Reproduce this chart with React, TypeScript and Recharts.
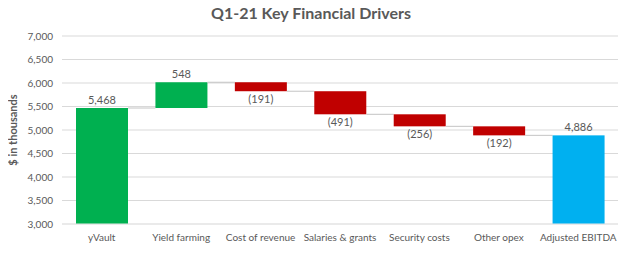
import React from "react";
import { BarChart, Bar, XAxis, YAxis, CartesianGrid, LabelList, Label, ReferenceLine } from "recharts";

const categories = [
  "yVault",
  "Yield farming",
  "Cost of revenue",
  "Salaries & grants",
  "Security costs",
  "Other opex",
  "Adjusted EBITDA",
];
const changes = [5468, 548, -191, -491, -256, -192, 4886];
const isTotal = [true, false, false, false, false, false, true];
const yTicks = [3000, 3500, 4000, 4500, 5000, 5500, 6000, 6500, 7000];

const Y_FLOOR = 3000;
const Y_CEIL = 7000;

const WIDTH = 642;
const HEIGHT = 263;
const MARGIN = { top: 36, right: 24, left: 10, bottom: 0 };
const Y_AXIS_W = 52;
const BAR_W = 52;
const BAND = (WIDTH - MARGIN.left - MARGIN.right - Y_AXIS_W) / categories.length;

const GREEN = "#00b050";
const RED = "#c00000";
const BLUE = "#00b0f0";
const TEXT = "#595959";
const FONT = "Lato, 'Liberation Sans', sans-serif";

// running totals -> [low, high] ranges for each step
let running = 0;
const rows = categories.map((name, i) => {
  let low: number;
  let high: number;
  let up: boolean;
  if (isTotal[i]) {
    low = Y_FLOOR;
    high = changes[i];
    running = changes[i];
    up = true;
  } else {
    const end = running + changes[i];
    low = Math.min(running, end);
    high = Math.max(running, end);
    up = changes[i] >= 0;
    running = end;
  }
  const fill = isTotal[i] ? (i === 0 ? GREEN : BLUE) : up ? GREEN : RED;
  return { name, range: [low, high], up, fill };
});

const fmt = (v: number) =>
  v < 0 ? `(${Math.abs(v).toLocaleString("en-US")})` : v.toLocaleString("en-US");

const StepBar = (props: any) => {
  const { x, y, width, height, index } = props;
  const row = rows[index];
  const levelY = row.up ? y : y + height;
  return (
    <g>
      <rect x={x} y={y} width={width} height={height} fill={row.fill} />
      {index < rows.length - 1 && (
        <line
          x1={x + width}
          x2={x + BAND}
          y1={levelY}
          y2={levelY}
          stroke="#c4c4c4"
          strokeWidth={1}
        />
      )}
    </g>
  );
};

const StepLabel = (props: any) => {
  const { x, y, width, height, index } = props;
  const row = rows[index];
  const cx = x + width / 2;
  const ty = row.up ? y - 4 : y + height + 12;
  return (
    <text x={cx} y={ty} textAnchor="middle" fill={TEXT} fontSize={11} fontFamily={FONT}>
      {fmt(changes[index])}
    </text>
  );
};

export default function App() {
  return (
    <div style={{ position: "relative", width: WIDTH, height: HEIGHT, margin: -8, background: "#fff" }}>
      <div
        style={{
          position: "absolute",
          left: 0,
          top: 3,
          width: WIDTH - 20,
          textAlign: "center",
          fontFamily: FONT,
          fontWeight: 700,
          fontSize: 16,
          color: TEXT,
        }}
      >
        Q1-21 Key Financial Drivers
      </div>
      <BarChart width={WIDTH} height={HEIGHT} data={rows} margin={MARGIN} barSize={BAR_W}>
        <CartesianGrid vertical={false} stroke="#d9d9d9" />
        <XAxis
          dataKey="name"
          axisLine={false}
          tickLine={false}
          height={39}
          tickMargin={4}
          tick={{ fill: TEXT, fontSize: 10, fontFamily: FONT }}
          interval={0}
        />
        <YAxis
          width={Y_AXIS_W}
          domain={[Y_FLOOR, Y_CEIL]}
          ticks={yTicks}
          axisLine={false}
          tickLine={false}
          tickMargin={3}
          tickFormatter={(v: number) => v.toLocaleString("en-US")}
          tick={{ fill: TEXT, fontSize: 10, fontFamily: FONT }}
        >
          <Label
            content={({ viewBox }: any) => {
              const lx = viewBox.x + 2;
              const ly = viewBox.y + viewBox.height / 2;
              return (
                <text
                  x={lx}
                  y={ly}
                  transform={`rotate(-90 ${lx} ${ly})`}
                  textAnchor="middle"
                  dominantBaseline="central"
                  fill={TEXT}
                  fontSize={11}
                  fontWeight={700}
                  fontFamily={FONT}
                >
                  $ in thousands
                </text>
              );
            }}
          />
        </YAxis>
        <Bar dataKey="range" shape={StepBar} isAnimationActive={false}>
          <LabelList dataKey="range" content={StepLabel} />
        </Bar>
        <ReferenceLine y={Y_FLOOR} stroke="#e8e8e8" strokeWidth={1} />
      </BarChart>
    </div>
  );
}
